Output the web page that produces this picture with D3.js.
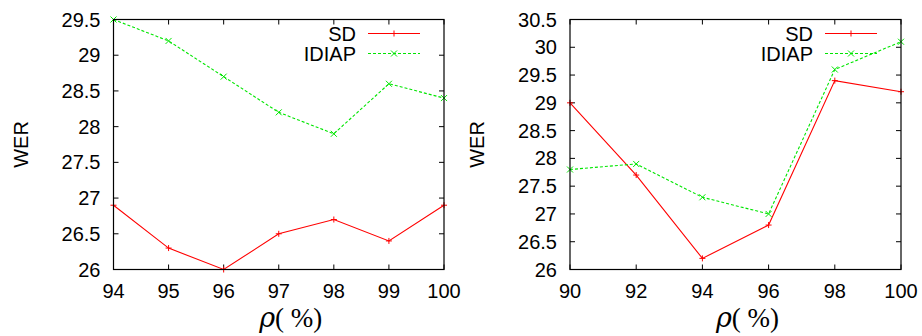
<!DOCTYPE html>
<html>
<head>
<meta charset="utf-8">
<script src="https://cdn.jsdelivr.net/npm/d3@7"></script>
<style>
  body { margin: 0; background: #fff; }
  svg { display: block; font-family: "Liberation Sans", Arial, sans-serif; }
</style>
</head>
<body>
<svg id="chart" width="922" height="336"></svg>
<script>
// left panel
const leftX = [94, 95, 96, 97, 98, 99, 100];
const leftSD = [26.9, 26.3, 26.0, 26.5, 26.7, 26.4, 26.9];
const leftIDIAP = [29.5, 29.2, 28.7, 28.2, 27.9, 28.6, 28.4];
const leftYTicks = [26, 26.5, 27, 27.5, 28, 28.5, 29, 29.5];

// right panel
const rightX = [90, 92, 94, 96, 98, 100];
const rightSD = [29.0, 27.7, 26.2, 26.8, 29.4, 29.2];
const rightIDIAP = [27.8, 27.9, 27.3, 27.0, 29.6, 30.1];
const rightYTicks = [26, 26.5, 27, 27.5, 28, 28.5, 29, 29.5, 30, 30.5];

const seriesNames = ['SD', 'IDIAP'];
const red = '#ff0000';
const green = '#00e600';
const fs = 20;

const svg = d3.select('#chart');

function drawPanel(cfg) {
  const g = svg.append('g');
  const x = d3.scaleLinear().domain(d3.extent(cfg.xs)).range([cfg.left, cfg.right]);
  const y = d3.scaleLinear().domain(d3.extent(cfg.yTicks)).range([cfg.bottom, cfg.top]);
  const tick = 5;

  // ticks mirrored on all sides, pointing inward
  g.selectAll('path.xt').data(cfg.xs).enter().append('path')
    .attr('d', d => `M${x(d)},${cfg.bottom}v${-tick}M${x(d)},${cfg.top}v${tick}`)
    .attr('stroke', '#000').attr('stroke-width', 1);
  g.selectAll('path.yt').data(cfg.yTicks).enter().append('path')
    .attr('d', d => `M${cfg.left},${y(d)}h${tick}M${cfg.right},${y(d)}h${-tick}`)
    .attr('stroke', '#000').attr('stroke-width', 1);

  g.selectAll('text.xl').data(cfg.xs).enter().append('text')
    .attr('x', d => x(d)).attr('y', cfg.bottom + 28)
    .attr('text-anchor', 'middle').attr('font-size', fs)
    .text(d => d);
  g.selectAll('text.yl').data(cfg.yTicks).enter().append('text')
    .attr('x', cfg.left - 13).attr('y', d => y(d) + 7)
    .attr('text-anchor', 'end').attr('font-size', fs)
    .text(d => d3.format('')(d));

  g.append('text')
    .attr('transform', `translate(${cfg.left - 86},${(cfg.top + cfg.bottom) / 2}) rotate(-90)`)
    .attr('text-anchor', 'middle').attr('font-size', fs)
    .text('WER');

  const title = g.append('text')
    .attr('x', (cfg.left + cfg.right) / 2 + 12).attr('y', cfg.bottom + 57)
    .attr('text-anchor', 'middle').attr('font-size', 27)
    .attr('font-family', '"DejaVu Serif", "Liberation Serif", serif');
  title.append('tspan').attr('font-style', 'italic').text('ρ');
  title.append('tspan').attr('font-family', '"Liberation Serif", serif').text('( %)');

  const line = d3.line().x(d => x(d[0])).y(d => y(d[1]));
  const series = [
    { vals: cfg.sd, color: red, dash: null, mark: 'plus' },
    { vals: cfg.idiap, color: green, dash: '3,2', mark: 'cross' }
  ];

  const marker = (sel, type, color) => {
    const s = 3;
    sel.attr('d', d => {
      const [cx, cy] = d;
      return type === 'plus'
        ? `M${cx - s},${cy}h${2 * s}M${cx},${cy - s}v${2 * s}`
        : `M${cx - s},${cy - s}l${2 * s},${2 * s}M${cx - s},${cy + s}l${2 * s},${-2 * s}`;
    }).attr('stroke', color).attr('stroke-width', 1).attr('fill', 'none');
  };

  series.forEach((s, i) => {
    const pts = cfg.xs.map((v, j) => [v, s.vals[j]]);
    g.append('path').datum(pts)
      .attr('d', line).attr('fill', 'none')
      .attr('stroke', s.color).attr('stroke-width', 1.1)
      .attr('stroke-dasharray', s.dash);
    g.selectAll(null).data(pts.map(p => [x(p[0]), y(p[1])])).enter().append('path')
      .call(marker, s.mark, s.color);

    // legend
    const ly = cfg.top + 14 + i * 20;
    const lx = cfg.right - 76;
    g.append('text')
      .attr('x', lx - 12).attr('y', ly + 7)
      .attr('text-anchor', 'end').attr('font-size', fs)
      .text(seriesNames[i]);
    g.append('path')
      .attr('d', `M${lx},${ly}h52`)
      .attr('stroke', s.color).attr('stroke-width', 1.1)
      .attr('stroke-dasharray', s.dash);
    g.append('path').datum([lx + 26, ly]).call(marker, s.mark, s.color);
  });

  g.append('rect')
    .attr('x', cfg.left).attr('y', cfg.top)
    .attr('width', cfg.right - cfg.left).attr('height', cfg.bottom - cfg.top)
    .attr('fill', 'none').attr('stroke', '#000').attr('stroke-width', 1.2);
}

drawPanel({ xs: leftX, sd: leftSD, idiap: leftIDIAP, yTicks: leftYTicks,
  left: 113.5, right: 444, top: 19.5, bottom: 269.5 });
drawPanel({ xs: rightX, sd: rightSD, idiap: rightIDIAP, yTicks: rightYTicks,
  left: 570, right: 901, top: 19.5, bottom: 269.5 });
</script>
</body>
</html>
